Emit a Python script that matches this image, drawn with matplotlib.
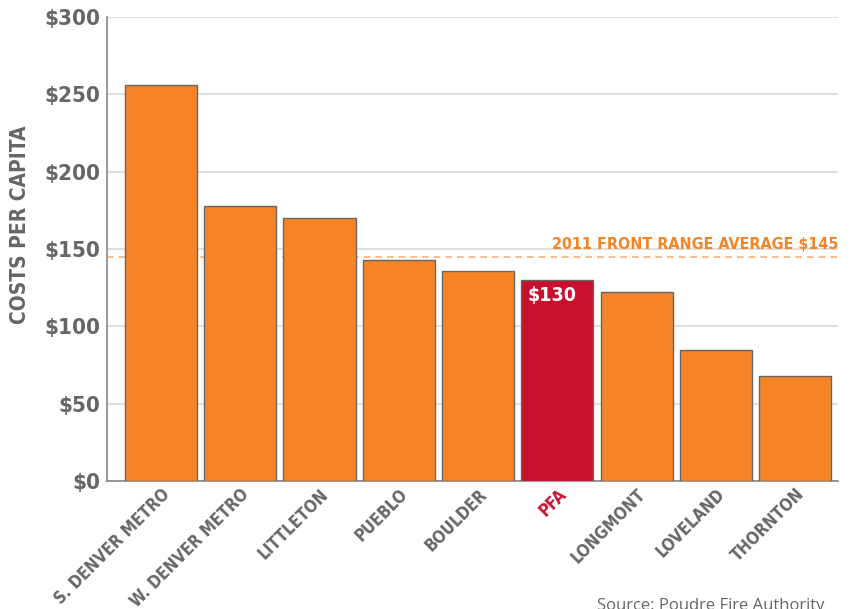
import matplotlib.pyplot as plt

# cost per capita by department
departments = ["S. DENVER METRO", "W. DENVER METRO", "LITTLETON", "PUEBLO",
               "BOULDER", "PFA", "LONGMONT", "LOVELAND", "THORNTON"]
costs = [256, 178, 170, 143, 136, 130, 122, 85, 68]
front_range_avg = 145
highlight = "PFA"

yticks = [0, 50, 100, 150, 200, 250, 300]
ytick_labels = [f"${v}" for v in yticks]

ORANGE = "#F58426"
RED = "#C8102E"
GREY = "#666666"

cond = dict(family="DejaVu Sans", stretch="condensed", weight="bold")

fig = plt.figure(figsize=(8.57, 6.09), dpi=100)
ax = fig.add_axes([107 / 857, 1 - 481 / 609, (838 - 107) / 857, (481 - 17) / 609])

x = list(range(len(departments)))
colors = [RED if d == highlight else ORANGE for d in departments]
ax.bar(x, costs, width=0.91, color=colors, edgecolor=GREY, linewidth=1.0, zorder=3)

# average reference line sits behind the bars
ax.axhline(front_range_avg, color="#F7B27A", linestyle=(0, (4, 3)), linewidth=1.2, zorder=2)
ax.text(8.54, front_range_avg + 3, f"2011 FRONT RANGE AVERAGE ${front_range_avg}",
        ha="right", va="bottom", color=ORANGE, fontsize=11.5, zorder=4, **cond)

# value label inside the highlighted bar
i = departments.index(highlight)
ax.text(i - 0.38, costs[i] - 4, f"${costs[i]}", ha="left", va="top",
        color="white", fontsize=14, zorder=4, **cond)

ax.set_xlim(-0.68, 8.54)
ax.set_ylim(0, 300)
ax.set_yticks(yticks)
ax.set_yticklabels(ytick_labels, fontsize=16, color=GREY, **cond)
ax.yaxis.grid(True, color="#D9D9D9", linewidth=1.2, zorder=0)
ax.set_axisbelow(True)
ax.tick_params(axis="y", length=0, pad=5)
ax.tick_params(axis="x", length=0, pad=3)

ax.set_xticks(x)
ax.set_xticklabels(departments, rotation=45, ha="right", rotation_mode="anchor",
                   fontsize=12, **cond)
for lbl, d in zip(ax.get_xticklabels(), departments):
    lbl.set_color(RED if d == highlight else GREY)

for s in ["top", "right"]:
    ax.spines[s].set_visible(False)
for s in ["left", "bottom"]:
    ax.spines[s].set_color("#888888")
    ax.spines[s].set_linewidth(1.2)

ax.set_ylabel("COSTS PER CAPITA", fontsize=15, color=GREY, **cond)
ax.yaxis.set_label_coords(-(107 - 30) / 731, (481 - 225) / 464)

fig.text(597 / 857, 3 / 609, "Source: Poudre Fire Authority", ha="left", va="center",
         fontsize=12, color=GREY, family="Open Sans")

fig.savefig("out.png", dpi=100)
